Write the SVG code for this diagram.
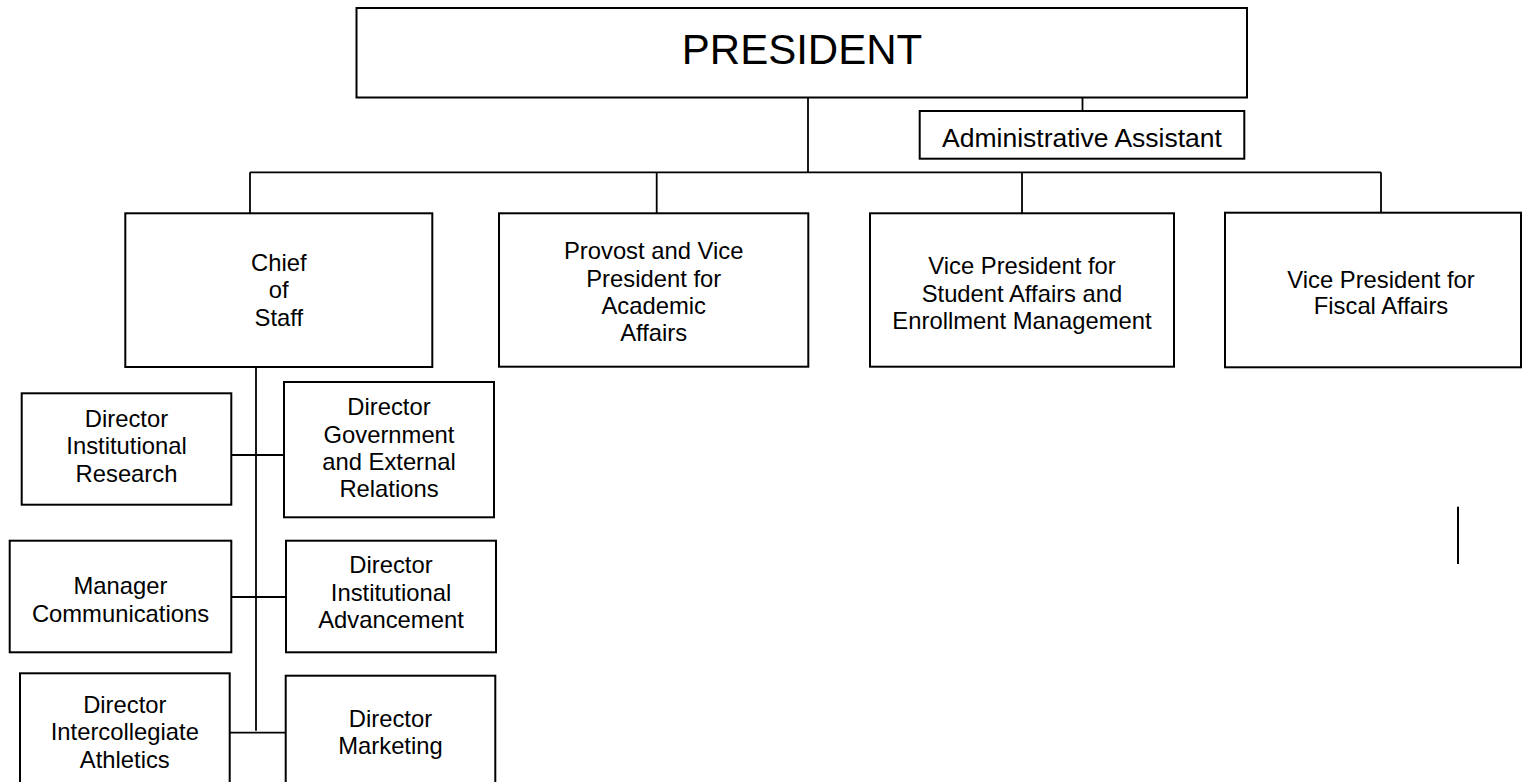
<svg xmlns="http://www.w3.org/2000/svg" width="1522" height="782" viewBox="0 0 1522 782">
<style>
.box{fill:#fff;stroke:#000;stroke-width:2}
.ln{fill:none;stroke:#000;stroke-width:1.8}
text{font-family:"Liberation Sans",Arial,sans-serif;fill:#000;text-anchor:middle;font-size:23.8px}
.big{font-size:42px}
.aa{font-size:26.5px}
</style>
<rect width="1522" height="782" fill="#fff"/>
<g id="connectors">
<line class="ln" x1="808" y1="98" x2="808" y2="172.3"/>
<line class="ln" x1="1082.5" y1="98" x2="1082.5" y2="111"/>
<line class="ln" x1="250" y1="172.3" x2="1381" y2="172.3"/>
<line class="ln" x1="250" y1="172.3" x2="250" y2="213.3"/>
<line class="ln" x1="656.7" y1="172.3" x2="656.7" y2="213.3"/>
<line class="ln" x1="1022" y1="172.3" x2="1022" y2="213.3"/>
<line class="ln" x1="1381" y1="172.3" x2="1381" y2="213"/>
<line class="ln" x1="256" y1="367" x2="256" y2="730.7"/>
<line class="ln" x1="231.3" y1="455" x2="284" y2="455"/>
<line class="ln" x1="231.3" y1="597" x2="286" y2="597"/>
<line class="ln" x1="229.7" y1="732.7" x2="285.7" y2="732.7"/>
<line x1="1458" y1="506.7" x2="1458" y2="564" stroke="#000" stroke-width="2"/>
</g>
<g id="president">
<rect class="box" x="356.5" y="8" width="890.5" height="89.5"/>
<text class="big" x="802" y="64.3">PRESIDENT</text>
</g>
<g id="admin-assistant">
<rect class="box" x="919.7" y="111" width="324.6" height="47.7"/>
<text class="aa" x="1082" y="147">Administrative Assistant</text>
</g>
<g id="chief-of-staff">
<rect class="box" x="125.3" y="213.3" width="307" height="153.7"/>
<text x="278.8" y="270.7">Chief</text>
<text x="278.8" y="298.3">of</text>
<text x="278.8" y="325.7">Staff</text>
</g>
<g id="provost">
<rect class="box" x="499" y="213.3" width="309.3" height="153.4"/>
<text x="653.7" y="259">Provost and Vice</text>
<text x="653.7" y="286.7">President for</text>
<text x="653.7" y="314">Academic</text>
<text x="653.7" y="340.7">Affairs</text>
</g>
<g id="vp-student-affairs">
<rect class="box" x="870" y="213.3" width="304" height="153.4"/>
<text x="1022" y="274.3">Vice President for</text>
<text x="1022" y="301.7">Student Affairs and</text>
<text x="1022" y="329.3">Enrollment Management</text>
</g>
<g id="vp-fiscal-affairs">
<rect class="box" x="1225" y="212.7" width="296" height="154.6"/>
<text x="1381" y="287.7">Vice President for</text>
<text x="1381" y="314.3">Fiscal Affairs</text>
</g>
<g id="dir-institutional-research">
<rect class="box" x="21.7" y="393.3" width="209.6" height="111.4"/>
<text x="126.5" y="426.7">Director</text>
<text x="126.5" y="454">Institutional</text>
<text x="126.5" y="481.7">Research</text>
</g>
<g id="dir-government-relations">
<rect class="box" x="284" y="382" width="210" height="135.3"/>
<text x="389" y="415">Director</text>
<text x="389" y="442.7">Government</text>
<text x="389" y="470">and External</text>
<text x="389" y="496.7">Relations</text>
</g>
<g id="mgr-communications">
<rect class="box" x="9.7" y="540.7" width="221.6" height="111.6"/>
<text x="120.5" y="594.3">Manager</text>
<text x="120.5" y="622.3">Communications</text>
</g>
<g id="dir-institutional-advancement">
<rect class="box" x="286" y="540.7" width="210" height="111.6"/>
<text x="391" y="573.3">Director</text>
<text x="391" y="600.7">Institutional</text>
<text x="391" y="628.3">Advancement</text>
</g>
<g id="dir-athletics">
<rect class="box" x="20" y="673.3" width="209.7" height="130"/>
<text x="124.8" y="712.7">Director</text>
<text x="124.8" y="740">Intercollegiate</text>
<text x="124.8" y="767.7">Athletics</text>
</g>
<g id="dir-marketing">
<rect class="box" x="285.7" y="675.7" width="209.6" height="130"/>
<text x="390.5" y="727.3">Director</text>
<text x="390.5" y="754.3">Marketing</text>
</g>
</svg>
